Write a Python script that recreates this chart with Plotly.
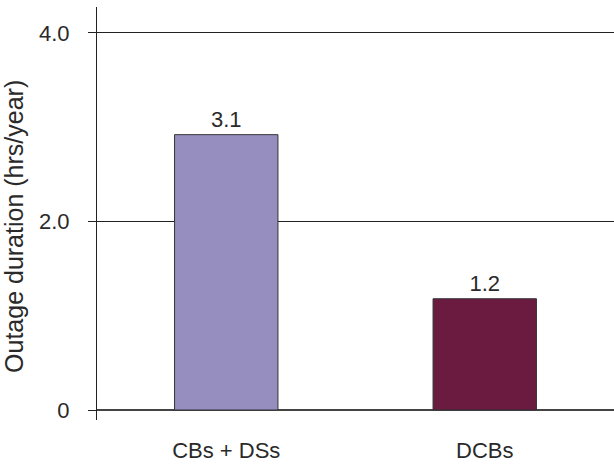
import plotly.graph_objects as go

categories = ["CBs + DSs", "DCBs"]
values = [2.92, 1.18]
value_labels = ["3.1", "1.2"]
bar_colors = ["#978EC0", "#6C1B40"]
y_tickvals = [0, 2, 4]
y_ticktext = ["0", "2.0", "4.0"]
y_title = "Outage duration (hrs/year)"

FONT = "Liberation Sans, Arial, sans-serif"
TXT = "#2a2a2a"

fig = go.Figure()
fig.add_trace(go.Bar(
    x=categories, y=values, width=0.4,
    marker=dict(color=bar_colors, line=dict(color="#333333", width=1)),
    text=value_labels, textposition="outside", cliponaxis=False,
    textfont=dict(family=FONT, size=22, color=TXT),
))

fig.update_layout(
    width=614, height=467,
    margin=dict(l=97, r=0, t=7, b=47),
    paper_bgcolor="white", plot_bgcolor="white",
    showlegend=False,
    font=dict(family=FONT, size=22, color=TXT),
    xaxis=dict(
        range=[-0.5, 1.5], showgrid=False, showline=False, ticks="",
        tickfont=dict(family=FONT, size=22, color=TXT),
        ticklabelstandoff=15,
    ),
    yaxis=dict(
        range=[-0.106, 4.274],
        tickvals=y_tickvals, ticktext=y_ticktext,
        ticks="outside", ticklen=8, tickcolor="#222222", tickwidth=1,
        showline=True, linecolor="#222222", linewidth=1,
        showgrid=True, gridcolor="#222222", gridwidth=1,
        zeroline=True, zerolinecolor="#444444", zerolinewidth=1.5,
        tickfont=dict(family=FONT, size=22, color=TXT),
        ticklabelstandoff=14,
    ),
    annotations=[dict(
        text=y_title, xref="paper", yref="paper",
        x=-0.162, y=0.468, xanchor="center", yanchor="middle",
        textangle=-90, showarrow=False,
        font=dict(family=FONT, size=25, color=TXT),
    )],
)

fig.write_html("out.html")
